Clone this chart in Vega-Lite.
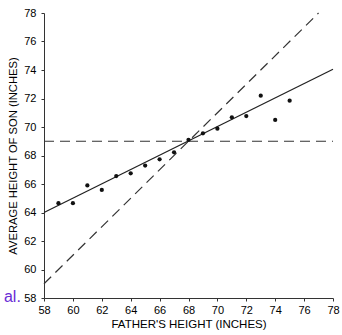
{
  "$schema": "https://vega.github.io/schema/vega-lite/v6.json",
  "autosize": "none",
  "width": 289,
  "height": 285,
  "padding": {"left": 44, "top": 13, "right": 9, "bottom": 37},
  "background": "white",
  "config": {
    "view": {"stroke": null},
    "font": "Liberation Sans",
    "axis": {
      "domainColor": "#333",
      "tickColor": "#333",
      "labelColor": "#000",
      "titleColor": "#000",
      "labelFont": "Liberation Sans",
      "titleFont": "Liberation Sans",
      "labelFontSize": 11,
      "titleFontSize": 11.5,
      "titleFontWeight": "normal",
      "labelOverlap": false,
      "grid": false,
      "tickSize": 3,
      "domainWidth": 1,
      "tickWidth": 1
    }
  },
  "encoding": {
    "x": {"field": "father", "type": "quantitative", "scale": {"domain": [58, 78], "nice": false, "zero": false},
          "axis": {"tickCount": 10, "labelOverlap": false, "labelBound": false, "labelFlush": false, "labelSeparation": 0, "title": "FATHER'S HEIGHT (INCHES)", "labelPadding": 3, "titlePadding": 3}},
    "y": {"field": "son", "type": "quantitative", "scale": {"domain": [58, 78], "nice": false, "zero": false},
          "axis": {"tickCount": 10, "labelOverlap": false, "labelBound": false, "labelFlush": false, "labelSeparation": 0, "title": "AVERAGE HEIGHT OF SON (INCHES)", "titleFontSize": 11.2, "labelPadding": 5, "titlePadding": 5}}
  },
  "datasets": {
    "points": [
      {"father": 59, "son": 64.65},
      {"father": 60, "son": 64.65},
      {"father": 61, "son": 65.9},
      {"father": 62, "son": 65.58},
      {"father": 63, "son": 66.56},
      {"father": 64, "son": 66.75},
      {"father": 65, "son": 67.29},
      {"father": 66, "son": 67.73},
      {"father": 67, "son": 68.22},
      {"father": 68, "son": 69.1},
      {"father": 69, "son": 69.56},
      {"father": 70, "son": 69.88},
      {"father": 71, "son": 70.68},
      {"father": 72, "son": 70.77},
      {"father": 73, "son": 72.2},
      {"father": 74, "son": 70.5},
      {"father": 75, "son": 71.85}
    ],
    "regression": [
      {"father": 58, "son": 64.0},
      {"father": 78, "son": 74.05}
    ],
    "sdline": [
      {"father": 58, "son": 59.0},
      {"father": 77, "son": 78.0}
    ],
    "mean": [
      {"father": 58, "son": 69.0},
      {"father": 78, "son": 69.0}
    ],
    "note": [
      {"father": 56.4, "son": 57.72, "label": "al."}
    ]
  },
  "layer": [
    {
      "data": {"name": "mean"},
      "mark": {"type": "line", "color": "#333", "strokeWidth": 1.1, "strokeDash": [10, 6]}
    },
    {
      "data": {"name": "sdline"},
      "mark": {"type": "line", "color": "#333", "strokeWidth": 1.2, "strokeDash": [10, 6]}
    },
    {
      "data": {"name": "regression"},
      "mark": {"type": "line", "color": "#222", "strokeWidth": 1.3}
    },
    {
      "data": {"name": "points"},
      "mark": {"type": "circle", "color": "#111", "opacity": 1, "size": 18}
    },
    {
      "data": {"name": "note"},
      "mark": {"type": "text", "align": "right", "baseline": "alphabetic", "fontSize": 16, "font": "Liberation Sans", "color": "#6a2bd6"},
      "encoding": {
        "text": {"field": "label"}
      }
    }
  ]
}
